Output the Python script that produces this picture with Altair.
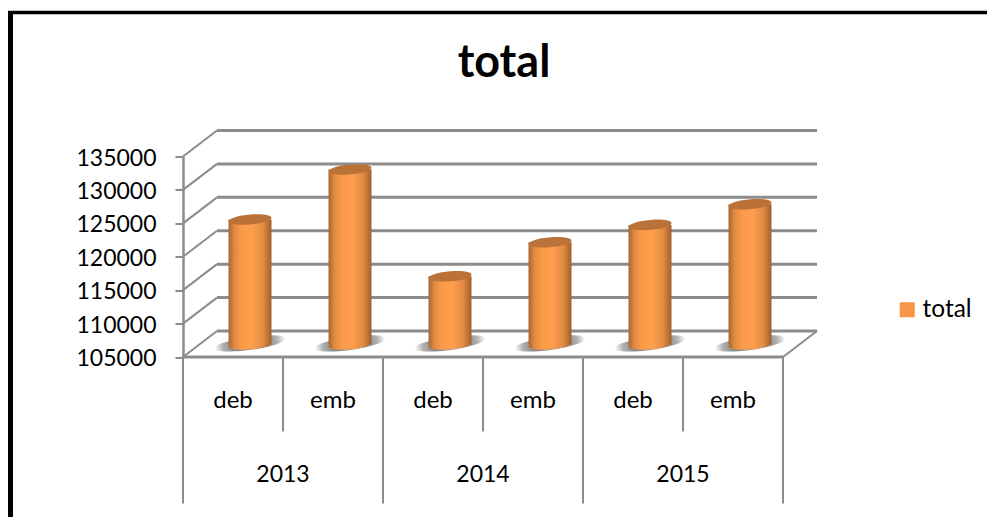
import altair as alt
import pandas as pd

# Chart content
title_text = "total"
series_name = "total"
years = ["2013", "2014", "2015"]
parts = ["deb", "emb", "deb", "emb", "deb", "emb"]
totals = [123700, 131200, 115200, 120300, 122900, 126000]
value_ticks = [105000, 110000, 115000, 120000, 125000, 130000, 135000]

# Oblique projection of the 3-D box, in data units
depth_x = 0.34
depth_y = 3890
y_min, y_max = 105000, 135000
x_max = len(parts)

FONT = "Lato"
GRID = "#8c8c8c"
TEXT = "#000000"

x_scale = alt.Scale(domain=[0, x_max], nice=False, zero=False, padding=0)
y_scale = alt.Scale(domain=[y_min, y_max], nice=False, zero=False)
y_axis = alt.Axis(
    values=value_ticks, title=None, grid=False, format="d",
    labelFont=FONT, labelFontSize=23, labelColor=TEXT, labelPadding=19, labelOffset=1.5,
    tickColor=GRID, tickSize=8, tickWidth=2, domainColor=GRID, domainWidth=2.5,
)
X = lambda f: alt.X(f, type="quantitative", scale=x_scale, axis=None)
Y = lambda f: alt.Y(f, type="quantitative", scale=y_scale, axis=y_axis)
Y_AT_FLOOR = alt.Y(datum=y_min, type="quantitative", scale=y_scale, axis=y_axis)

# Walls and floor
back_lines = pd.DataFrame({"x": depth_x, "x2": x_max + depth_x, "v": [v + depth_y for v in value_ticks]})
side_lines = pd.DataFrame({"x": 0.0, "x2": depth_x, "v": value_ticks, "v2": [v + depth_y for v in value_ticks]})
floor_side = pd.DataFrame({"x": [float(x_max)], "x2": [x_max + depth_x], "v": [y_min], "v2": [y_min + depth_y]})
front_line = pd.DataFrame({"x": [0.0], "x2": [float(x_max)], "v": [y_min]})

back = alt.Chart(back_lines).mark_rule(color=GRID, strokeWidth=3).encode(x=X("x"), x2="x2", y=Y("v"))
sides = alt.Chart(side_lines).mark_rule(color=GRID, strokeWidth=2).encode(x=X("x"), x2="x2", y=Y("v"), y2="v2")
floor_right = alt.Chart(floor_side).mark_rule(color=GRID, strokeWidth=2).encode(x=X("x"), x2="x2", y=Y("v"), y2="v2")
front = alt.Chart(front_line).mark_rule(color=GRID, strokeWidth=3).encode(x=X("x"), x2="x2", y=Y("v"))

# Cylinders stand halfway into the depth of the box
bars = pd.DataFrame({
    "x": [i + 0.5 + depth_x / 2 for i in range(len(totals))],
    "top": [v + depth_y * 0.48 for v in totals],
    "base": y_min + depth_y * 0.48,
})

side_fill = alt.LinearGradient(
    gradient="linear", x1=0, x2=1, y1=0, y2=0,
    stops=[
        alt.GradientStop(color="#a9652f", offset=0),
        alt.GradientStop(color="#e08a43", offset=0.14),
        alt.GradientStop(color="#fb9b4a", offset=0.32),
        alt.GradientStop(color="#ff9f4e", offset=0.55),
        alt.GradientStop(color="#e38c44", offset=0.8),
        alt.GradientStop(color="#a35f2b", offset=1),
    ],
)
shadow_fill = alt.RadialGradient(
    gradient="radial", x1=0.5, y1=0.5, x2=0.5, y2=0.5, r1=0.25, r2=0.5,
    stops=[
        alt.GradientStop(color="#8a8a8a", offset=0),
        alt.GradientStop(color="#b4b4b4", offset=0.55),
        alt.GradientStop(color="#ffffff", offset=1),
    ],
)
ellipse_path = "M-1,0.08 A1,0.23,-5,1,1,1,-0.08 A1,0.23,-5,1,1,-1,0.08 Z"
shadow_path = "M-1,0.14 A1,0.18,-8,1,1,1,-0.2 A1,0.18,-8,1,1,-1,0.14 Z"

shadow = alt.Chart(bars).mark_point(shape=shadow_path, size=4900, filled=True, fill=shadow_fill, opacity=1, strokeWidth=0).encode(
    x=X("x"), y=Y("base")
)
body = alt.Chart(bars).mark_bar(size=43, fill=side_fill).encode(x=X("x"), y=Y("top"), y2="base")
bottom_cap = alt.Chart(bars).mark_point(shape=ellipse_path, size=1849, filled=True, fill=side_fill, opacity=1, strokeWidth=0).encode(
    x=X("x"), y=Y("base")
)
top_cap = alt.Chart(bars).mark_point(shape=ellipse_path, size=1849, filled=True, fill="#ba7239", opacity=1, strokeWidth=0).encode(
    x=X("x"), y=Y("top")
)

# Two-level category axis
part_seps = pd.DataFrame({"x": [1, 3, 5]})
year_seps = pd.DataFrame({"x": [0, 2, 4, 6]})
part_rules = alt.Chart(part_seps).mark_rule(color=GRID, strokeWidth=2).encode(
    x=X("x"), y=alt.value(200.5), y2=alt.value(275)
)
year_rules = alt.Chart(year_seps).mark_rule(color=GRID, strokeWidth=2).encode(
    x=X("x"), y=alt.value(200.5), y2=alt.value(347)
)
part_labels = alt.Chart(pd.DataFrame({"x": [i + 0.5 for i in range(len(parts))], "t": parts})).mark_text(
    font=FONT, fontSize=24, color=TEXT, dy=44
).encode(x=X("x"), y=Y_AT_FLOOR, text="t:N")
year_labels = alt.Chart(pd.DataFrame({"x": [2 * i + 1 for i in range(len(years))], "t": years})).mark_text(
    font=FONT, fontSize=23, color=TEXT, dy=117.5
).encode(x=X("x"), y=Y_AT_FLOOR, text="t:N")

# Legend
legend_layer = alt.Chart(pd.DataFrame({"s": [series_name]})).mark_square(size=0).encode(
    color=alt.Color("s:N", scale=alt.Scale(range=["#f79646"]), legend=alt.Legend(
        title=None, orient="none", legendX=712, legendY=141,
        symbolType="square", symbolSize=225, symbolOpacity=1, symbolStrokeWidth=0,
        labelFont=FONT, labelFontSize=24.5, labelColor=TEXT, labelOffset=3,
    ))
)

# Chart heading
heading = alt.Chart(pd.DataFrame({"x": [3.21], "v": [y_max], "t": [title_text]})).mark_text(
    font=FONT, fontSize=45, fontWeight="bold", color="#000000", dy=-94
).encode(x=X("x"), y=Y("v"), text="t:N")

# Black frame along the left and top edges
frame_left = alt.Chart(pd.DataFrame({"a": [0]})).mark_rule(color="#000000", strokeWidth=5).encode(
    x=alt.value(-172.5), y=alt.value(-145.5), y2=alt.value(360.5)
)
frame_top = alt.Chart(pd.DataFrame({"a": [0]})).mark_rule(color="#000000", strokeWidth=3.5).encode(
    x=alt.value(-175), x2=alt.value(804), y=alt.value(-144)
)

chart = alt.layer(
    back, sides, floor_right, front, shadow, body, bottom_cap, top_cap,
    part_rules, year_rules, part_labels, year_labels, legend_layer, heading, frame_left, frame_top,
).properties(
    width=600,
    height=200.5,
    autosize="none",
    padding={"left": 183, "top": 156.5, "right": 204, "bottom": 160},
    background="#ffffff",
).configure_view(stroke=None)

chart.save("out.html", embed_options={"renderer": "svg", "actions": False})
